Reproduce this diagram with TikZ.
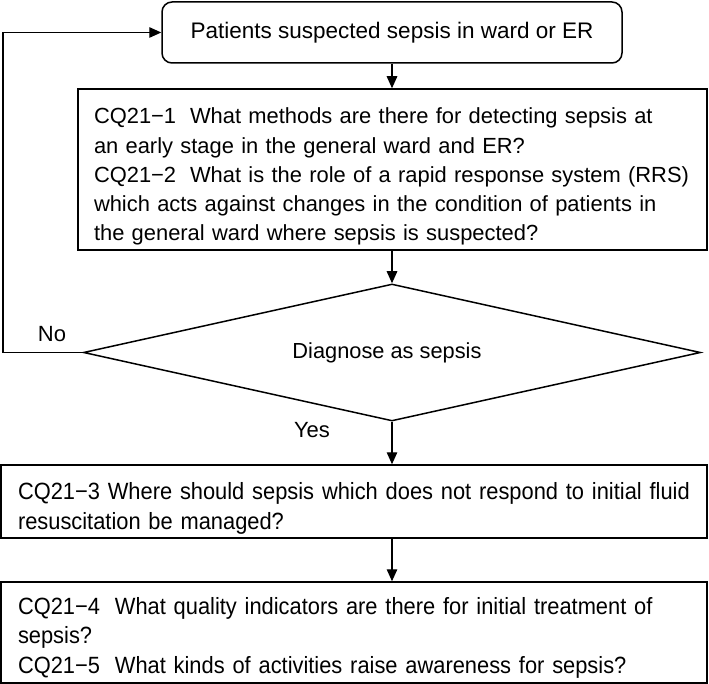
\documentclass[tikz,border=0pt]{standalone}
\usepackage{fontspec}
\setmainfont{Liberation Sans}
\newfontfamily\condsans[FakeStretch=0.93]{Liberation Sans}
\usetikzlibrary{shapes.geometric,arrows.meta}
\begin{document}
\begin{tikzpicture}[x=1pt,y=-1pt,
  box/.style={draw, line width=1.5pt, rectangle, inner sep=0pt},
  txt/.style={font=\fontsize{21.9}{29.2}\selectfont},
  ctxt/.style={font=\condsans\fontsize{23.5}{29.5}\selectfont},
  arr/.style={line width=1.3pt, -{Triangle[length=12pt,width=10.5pt]}},
  lbl/.style={font=\fontsize{22}{26}\selectfont, inner sep=0pt}]
\useasboundingbox (0,0) rectangle (709,684);
\fill[white] (0,0) rectangle (709,684);

\node[draw, rounded corners=10pt, line width=1.5pt, minimum width=460pt, minimum height=61pt, inner sep=0pt,
  font=\fontsize{22.5}{27}\selectfont] (top) at (392,32.5) {Patients suspected sepsis in ward or ER};

\node[box, txt, minimum width=629pt, minimum height=161pt, text width=597pt, align=left] (cq1) at (392.5,169.5)
 {\rule{0pt}{30pt}\mbox{CQ21−1\hspace{0.3em} What methods are there for detecting sepsis at}\\
  \mbox{an early stage in the general ward and ER?}\\
  \mbox{CQ21−2\hspace{0.3em} What is the role of a rapid response system (RRS)}\\
  \mbox{which acts against changes in the condition of patients in}\\
  \mbox{the general ward where sepsis is suspected?}};

\node[diamond, draw, line width=1.5pt, inner sep=0pt, aspect=4.5, minimum width=617pt, minimum height=137pt,
  font=\fontsize{21.8}{26}\selectfont] (dia) at (392,352.5) {\hspace*{-10pt}Diagnose as sepsis};

\node[box, ctxt, minimum width=706pt, minimum height=73pt, text width=672pt, align=left] (cq3) at (354,501.5)
 {\rule{0pt}{31pt}\mbox{CQ21−3 Where should sepsis which does not respond to initial fluid}\\
  \mbox{resuscitation be managed?}};

\node[box, ctxt, minimum width=706pt, minimum height=101pt, text width=672pt, align=left] (cq4) at (354,632.5)
 {\rule{0pt}{27pt}\mbox{CQ21−4\hspace{0.3em} What quality indicators are there for initial treatment of}\\
  \mbox{sepsis?}\\
  \mbox{CQ21−5\hspace{0.3em} What kinds of activities raise awareness for sepsis?}};

\node[lbl] (no) at (52,334) {No};
\node[lbl] (yes) at (312,430) {Yes};

\coordinate (fb) at (3,352.5);
\draw[arr] (top.south) -- (top.south |- cq1.north);
\draw[arr] (cq1.south -| dia.north) -- (dia.north);
\draw[arr] (dia.south) -- (dia.south |- cq3.north);
\draw[arr] (cq3.south -| dia.south) -- (dia.south |- cq4.north);
\draw[arr] (dia.west) -- (fb) |- (top.west);
\end{tikzpicture}
\end{document}
